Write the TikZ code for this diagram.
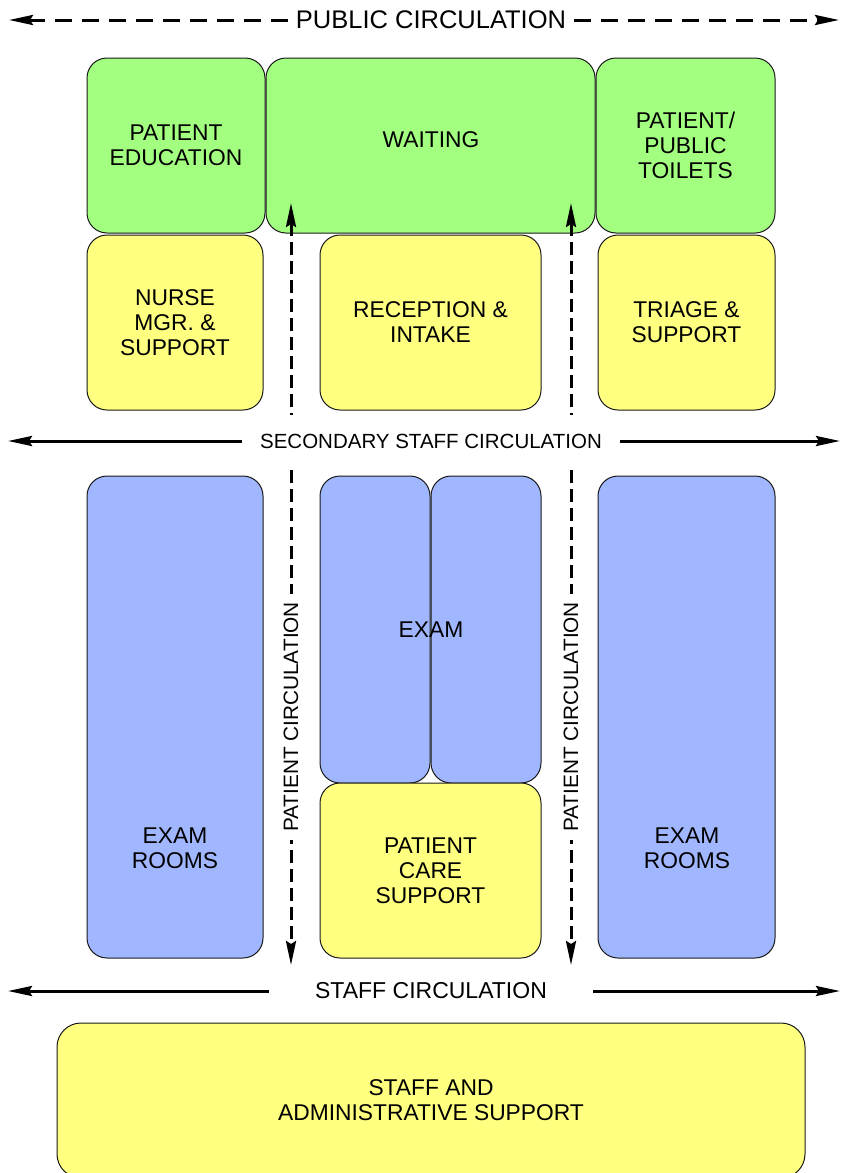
\documentclass[tikz,border=0pt]{standalone}
\usepackage{fontspec}
\setmainfont{Liberation Sans}
\usetikzlibrary{arrows.meta,positioning,calc}
\definecolor{Grass}{HTML}{A3FF80}
\definecolor{Butter}{HTML}{FFFF80}
\definecolor{Sky}{HTML}{A0B6FF}

\begin{document}
\begin{tikzpicture}[x=1pt,y=-1pt,>={Stealth[length=24pt,width=10pt,inset=3pt]},
    room/.style={draw=black!90,line width=1pt,rounded corners=20pt,inner sep=0pt,align=center,font=\fontsize{22.8}{25}\selectfont},
    pubroom/.style={room,fill=Grass},
    careroom/.style={room,fill=Butter},
    examroom/.style={room,fill=Sky},
    roomtext/.style={align=center,inner sep=0pt,font=\fontsize{22.8}{25}\selectfont},
    flowtext/.style={fill=white,inner ysep=19pt},
    flow/.style={line width=3pt},
    flowdash/.style={line width=3pt,dash pattern=on 13pt off 6pt}]
    \clip (0,0) rectangle (841,1173);
    \node[pubroom,minimum width=178pt,minimum height=175pt] (edu) at (176,145.5) {PATIENT\\EDUCATION};
    \node[pubroom,minimum width=329pt,minimum height=175pt] (wait) at (430.5,145.5) {};
    \node[roomtext] (waittxt) at (431,140) {WAITING};
    \node[pubroom,minimum width=179pt,minimum height=175pt] (toil) at (685.5,145.5) {PATIENT/\\PUBLIC\\TOILETS};
    \node[careroom,minimum width=176pt,minimum height=175pt] (nurse) at (175,322.5) {NURSE\\MGR. \&\\SUPPORT};
    \node[careroom,minimum width=221pt,minimum height=175pt] (recep) at (430.5,322.5) {RECEPTION \&\\INTAKE};
    \node[careroom,minimum width=177pt,minimum height=175pt] (triage) at (686.5,322.5) {TRIAGE \&\\SUPPORT};
    \node[examroom,minimum width=176pt,minimum height=482pt] (examL) at (175,717) {};
    \node[roomtext] (examLtxt) at (175,848) {EXAM\\ROOMS};
    \node[examroom,minimum width=110pt,minimum height=307pt] (examA) at (375,629.5) {};
    \node[examroom,minimum width=110pt,minimum height=307pt] (examB) at (486,629.5) {};
    \node[roomtext] (examtxt) at (431,630) {EXAM};
    \node[careroom,minimum width=221pt,minimum height=175pt] (care) at (430.5,870.5) {PATIENT\\CARE\\SUPPORT};
    \node[examroom,minimum width=177pt,minimum height=482pt] (examR) at (686.5,717) {};
    \node[roomtext] (examRtxt) at (687,848) {EXAM\\ROOMS};
    \node[careroom,minimum width=748pt,minimum height=155pt,rounded corners=24pt] (admin) at (431,1100.5) {STAFF AND\\ADMINISTRATIVE SUPPORT};

    \coordinate (pcLtop) at (291,203); \coordinate (pcLbot) at (291,965);
    \coordinate (pcRtop) at (571,203); \coordinate (pcRbot) at (571,965);
    \draw[flowdash,<->] (pcLtop)--(pcLbot);\draw[flowdash,<->] (pcRtop)--(pcRbot);
    \node[flowtext,rotate=90,inner xsep=8pt,inner ysep=4pt,font=\fontsize{20.8}{24}\selectfont] (pcL) at (291,717) {PATIENT CIRCULATION};
    \node[flowtext,rotate=90,inner xsep=8pt,inner ysep=4pt,font=\fontsize{20.8}{24}\selectfont] (pcR) at (571,717) {PATIENT CIRCULATION};

    \node[flowtext,inner xsep=8pt,inner ysep=4pt,font=\fontsize{25.5}{28}\selectfont] (pub) at (431,20) {PUBLIC CIRCULATION};
    \coordinate (pubW) at (9,20); \coordinate (pubE) at (839,20);
    \draw[->,line width=3pt,dash pattern=on 17pt off 10pt] (pub.west)--(pubW);\draw[->,line width=3pt,dash pattern=on 17pt off 10pt] (pub.east)--(pubE);

    \node[flowtext,inner xsep=18pt,font=\fontsize{20.5}{24}\selectfont] (sec) at (431,441) {SECONDARY STAFF CIRCULATION};
    \coordinate (secW) at (8,441); \coordinate (secE) at (840,441);
    \draw[->,flow] (sec.west)--(secW);\draw[->,flow] (sec.east)--(secE);

    \node[flowtext,inner xsep=46pt,inner ysep=4pt,font=\fontsize{23}{26}\selectfont] (staff) at (431,991) {STAFF CIRCULATION};
    \coordinate (staffW) at (8,991); \coordinate (staffE) at (840,991);
    \draw[->,flow] (staff.west)--(staffW);\draw[->,flow] (staff.east)--(staffE);
  \end{tikzpicture}
\end{document}
